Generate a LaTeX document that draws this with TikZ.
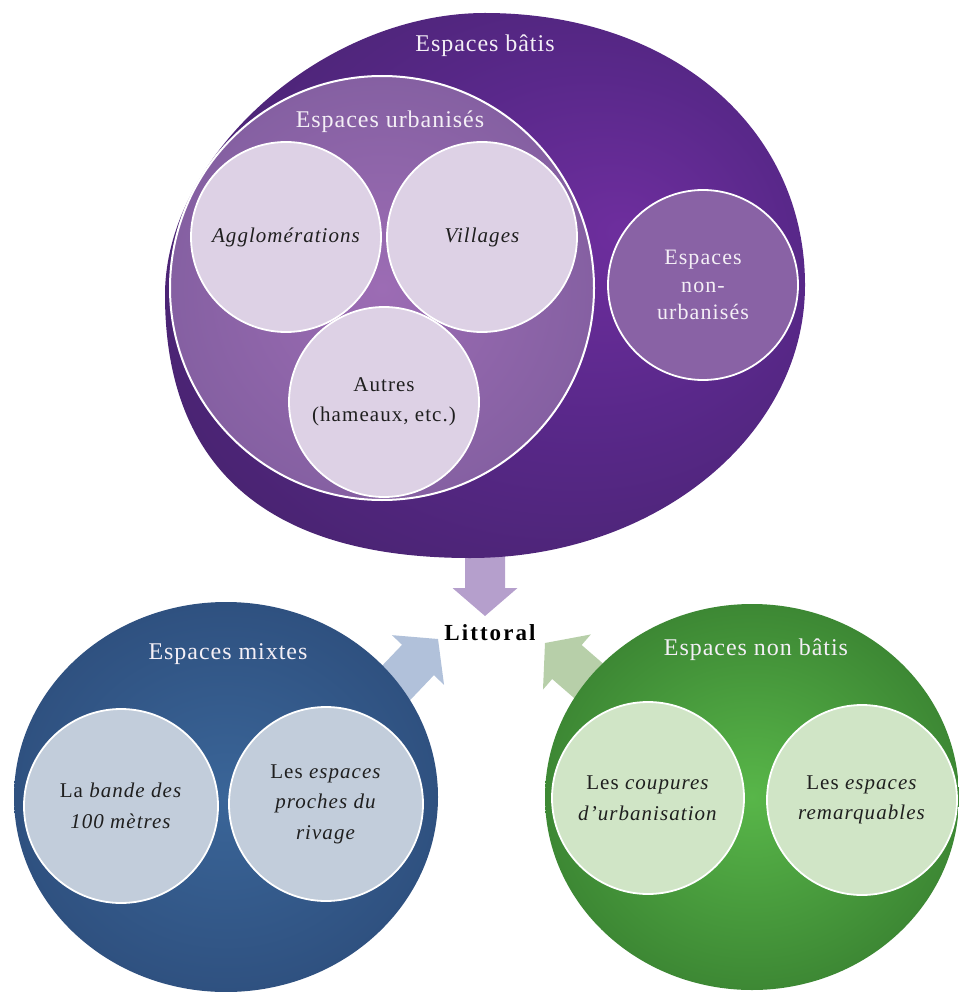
\documentclass[tikz,border=0pt]{standalone}
\usepackage{fontspec}
\setmainfont{Liberation Serif}
\newfontfamily\hdfont[LetterSpace=4]{Liberation Serif}
\newfontfamily\infont[LetterSpace=5]{Liberation Serif}
\newfontfamily\ltfont[LetterSpace=9]{Liberation Serif}
\usetikzlibrary{calc,shapes.geometric}
\definecolor{purpOut}{HTML}{4A2473}
\definecolor{purpMid}{HTML}{59288A}
\definecolor{purpIn}{HTML}{6E2E9E}
\definecolor{urbOut}{HTML}{8560A2}
\definecolor{urbIn}{HTML}{9C6CB4}
\definecolor{lav}{HTML}{DDD1E5}
\definecolor{nonurb}{HTML}{8962A5}
\definecolor{parrow}{HTML}{B59FCC}
\definecolor{blueOut}{HTML}{2F5180}
\definecolor{blueIn}{HTML}{3A6598}
\definecolor{bluelt}{HTML}{C2CDDB}
\definecolor{barrow}{HTML}{B1C1DA}
\definecolor{greenOut}{HTML}{3D8834}
\definecolor{greenIn}{HTML}{58B649}
\definecolor{greenlt}{HTML}{D0E5C6}
\definecolor{garrow}{HTML}{B7CFA9}
\definecolor{hdwhite}{HTML}{F4EFF6}
\pgfdeclareradialshading{purpsh}{\pgfpoint{11bp}{5bp}}{color(0bp)=(purpIn); color(16bp)=(purpMid); color(32bp)=(purpOut); color(60bp)=(purpOut)}
\newcommand{\blockarr}[6]{%
  \coordinate (#1-h) at ($(#1)!#3!(#2)$);
  \fill[#6] (#1) -- ($(#1-h)!#4!90:(#1)$) -- ($(#1-h)!#5!90:(#1)$)
    -- ($(#2)!#5!90:(#1)$) -- ($(#2)!#5!-90:(#1)$)
    -- ($(#1-h)!#5!-90:(#1)$) -- ($(#1-h)!#4!-90:(#1)$) -- cycle;}
\tikzset{
  hdr/.style={font=\hdfont\fontsize{24}{28}\selectfont, text=hdwhite, inner sep=0pt},
  smallc/.style={circle, draw=white, line width=1.8pt, minimum size=190pt, inner sep=0pt,
    align=center, font=\infont\fontsize{21}{30.5}\selectfont, text=black!88},
  bigell/.style={ellipse, inner sep=0pt}
}
\begin{document}
\begin{tikzpicture}[x=1pt,y=-1pt]
\useasboundingbox (0,0) rectangle (958,992);
% arrow end points
\coordinate (pTip) at (485,616);
\coordinate (pTail) at (485,545);
\coordinate (bTip) at (438,639);
\coordinate (bTail) at (376,704);
\coordinate (gTip) at (545,643);
\coordinate (gTail) at (613,702);
\blockarr{pTip}{pTail}{28pt}{32.5pt}{20pt}{parrow}
\blockarr{bTip}{bTail}{29pt}{36pt}{22pt}{barrow}
\blockarr{gTip}{gTail}{29pt}{36.5pt}{22.5pt}{garrow}
% Espaces bâtis
\shade[shading=purpsh]
  (485,13) .. controls (671,13) and (805,127) .. (805,285)
  .. controls (805,436) and (655,558) .. (470,558)
  .. controls (269,558) and (165,469) .. (165,295)
  .. controls (165,154) and (325,13) .. (485,13) -- cycle;
\node[hdr] (batis) at (485,46) {Espaces bâtis};
\node[circle, draw=white, line width=2pt, inner color=urbIn, outer color=urbOut,
  minimum size=424pt, inner sep=0pt] (urbC) at (382,288) {};
\node[hdr] (urb) at (390,122) {Espaces urbanisés};
\node[smallc, fill=lav] (agglo) at (286,237) {\itshape Agglomérations};
\node[smallc, fill=lav] (villages) at (482,237) {\itshape Villages};
\node[smallc, fill=lav] (autres) at (384,402) {Autres\\(hameaux, etc.)};
\node[smallc, fill=nonurb, text=hdwhite, font=\infont\fontsize{22}{27.5}\selectfont]
  (nonurb) at (703,285) {Espaces\\non-\\urbanisés};
% Espaces mixtes
\node[bigell, inner color=blueIn, outer color=blueOut, minimum width=424pt, minimum height=390pt]
  (mixC) at (226,797) {};
\node[hdr] (mixtes) at (228,654) {Espaces mixtes};
\node[smallc, fill=bluelt, minimum size=194pt] (bande) at (121,806) {La \textit{bande des}\\\textit{100 mètres}};
\node[smallc, fill=bluelt, minimum size=194pt] (proches) at (326,804) {Les \textit{espaces}\\\textit{proches du}\\\textit{rivage}};
% Espaces non bâtis
\node[bigell, inner color=greenIn, outer color=greenOut, minimum width=414pt, minimum height=386pt]
  (nbC) at (752,797) {};
\node[hdr] (nonbatis) at (756,650) {Espaces non bâtis};
\node[smallc, fill=greenlt, minimum size=192pt] (coupures) at (648,798) {Les \textit{coupures}\\\textit{d’urbanisation}};
\node[smallc, fill=greenlt, minimum size=190pt] (remarq) at (862,800) {Les \textit{espaces}\\\textit{remarquables}};
% Littoral
\node[font=\ltfont\bfseries\fontsize{23}{28}\selectfont, inner sep=0pt] (lit) at (490,633) {Littoral};
\end{tikzpicture}
\end{document}
